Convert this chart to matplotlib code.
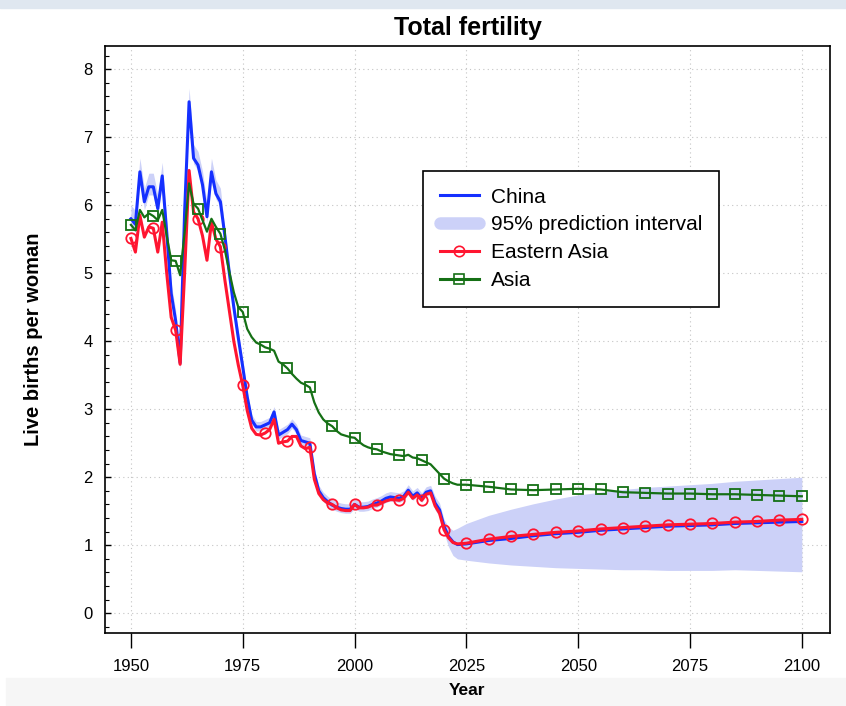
import matplotlib
matplotlib.use("Agg")
import matplotlib.pyplot as plt
from matplotlib.lines import Line2D
from matplotlib.patches import Rectangle
from matplotlib.ticker import MultipleLocator

plt.rcParams['font.family'] = ['Liberation Sans', 'DejaVu Sans']

# years: annual estimates 1950-2023, then 5-year projections
hist_years = list(range(1950, 2024))
proj_years = list(range(2025, 2101, 5))
years = hist_years + proj_years

china = [5.80, 5.72, 6.49, 6.05, 6.27, 6.27, 5.95, 6.43, 5.60, 4.70,
         4.30, 3.68, 5.90, 7.52, 6.69, 6.59, 6.30, 5.83, 6.49, 6.17,
         6.05, 5.55, 5.00, 4.50, 4.05, 3.62, 3.18, 2.84, 2.74, 2.74,
         2.77, 2.80, 2.96, 2.62, 2.66, 2.70, 2.78, 2.70, 2.54, 2.52,
         2.50, 2.05, 1.80, 1.70, 1.64, 1.59, 1.56, 1.54, 1.53, 1.53,
         1.60, 1.56, 1.56, 1.57, 1.60, 1.62, 1.65, 1.69, 1.71, 1.70,
         1.69, 1.72, 1.81, 1.72, 1.77, 1.69, 1.78, 1.80, 1.62, 1.52,
         1.28, 1.13, 1.05, 1.01,
         1.02, 1.07, 1.10, 1.14, 1.17, 1.19, 1.22, 1.24, 1.26, 1.28,
         1.29, 1.30, 1.32, 1.33, 1.34, 1.35]

china_hi = [6.00, 5.92, 6.69, 6.25, 6.47, 6.47, 6.15, 6.63, 5.75, 4.85,
            4.45, 3.83, 6.05, 7.72, 6.89, 6.79, 6.50, 6.03, 6.69, 6.37,
            6.25, 5.65, 5.10, 4.60, 4.15, 3.72, 3.26, 2.92, 2.82, 2.82,
            2.85, 2.88, 3.04, 2.70, 2.74, 2.78, 2.86, 2.78, 2.62, 2.60,
            2.58, 2.13, 1.88, 1.78, 1.72, 1.67, 1.64, 1.62, 1.61, 1.61,
            1.68, 1.64, 1.64, 1.65, 1.68, 1.70, 1.73, 1.77, 1.79, 1.78,
            1.77, 1.80, 1.89, 1.80, 1.85, 1.77, 1.86, 1.88, 1.72, 1.62,
            1.38, 1.27, 1.22, 1.25,
            1.32, 1.44, 1.53, 1.61, 1.68, 1.74, 1.78, 1.82, 1.85, 1.87,
            1.89, 1.91, 1.94, 1.96, 1.98, 2.00]

china_lo = [5.68, 5.60, 6.37, 5.93, 6.15, 6.15, 5.83, 6.31, 5.50, 4.60,
            4.20, 3.58, 5.80, 7.44, 6.61, 6.51, 6.22, 5.75, 6.41, 6.09,
            5.97, 5.45, 4.90, 4.40, 3.95, 3.52, 3.12, 2.78, 2.68, 2.68,
            2.71, 2.74, 2.90, 2.56, 2.60, 2.64, 2.72, 2.64, 2.48, 2.46,
            2.44, 1.99, 1.74, 1.64, 1.58, 1.53, 1.50, 1.48, 1.47, 1.47,
            1.54, 1.50, 1.50, 1.51, 1.54, 1.56, 1.59, 1.63, 1.65, 1.64,
            1.63, 1.66, 1.75, 1.66, 1.71, 1.63, 1.72, 1.74, 1.52, 1.42,
            1.18, 0.98, 0.85, 0.80,
            0.78, 0.74, 0.71, 0.69, 0.67, 0.66, 0.65, 0.64, 0.64, 0.63,
            0.63, 0.63, 0.64, 0.63, 0.62, 0.61]

eastern_asia = [5.51, 5.31, 5.85, 5.53, 5.68, 5.66, 5.31, 5.75, 5.00, 4.35,
                4.16, 3.66, 5.00, 6.51, 5.90, 5.80, 5.55, 5.19, 5.75, 5.50,
                5.39, 4.90, 4.45, 4.00, 3.65, 3.35, 2.98, 2.72, 2.63, 2.62,
                2.65, 2.70, 2.85, 2.50, 2.52, 2.53, 2.60, 2.60, 2.46, 2.42,
                2.44, 1.97, 1.76, 1.67, 1.62, 1.60, 1.55, 1.52, 1.51, 1.51,
                1.60, 1.55, 1.55, 1.56, 1.59, 1.59, 1.62, 1.65, 1.67, 1.67,
                1.66, 1.69, 1.78, 1.69, 1.74, 1.66, 1.75, 1.77, 1.58, 1.47,
                1.23, 1.11, 1.04, 1.02,
                1.03, 1.09, 1.13, 1.16, 1.19, 1.21, 1.24, 1.26, 1.28, 1.30,
                1.31, 1.32, 1.34, 1.35, 1.37, 1.38]

asia = [5.71, 5.63, 5.93, 5.82, 5.88, 5.84, 5.78, 5.93, 5.55, 5.19,
        5.18, 4.97, 5.60, 6.32, 6.02, 5.95, 5.78, 5.61, 5.80, 5.68,
        5.58, 5.34, 5.02, 4.72, 4.50, 4.43, 4.18, 4.06, 3.98, 3.95,
        3.91, 3.89, 3.86, 3.70, 3.66, 3.60, 3.52, 3.45, 3.39, 3.36,
        3.32, 3.10, 2.95, 2.85, 2.79, 2.75, 2.68, 2.63, 2.61, 2.59,
        2.58, 2.52, 2.47, 2.44, 2.42, 2.41, 2.38, 2.36, 2.34, 2.33,
        2.32, 2.31, 2.33, 2.29, 2.28, 2.25, 2.22, 2.19, 2.12, 2.05,
        1.98, 1.94, 1.91, 1.89,
        1.89, 1.86, 1.82, 1.81, 1.82, 1.83, 1.82, 1.78, 1.77, 1.76,
        1.76, 1.75, 1.75, 1.74, 1.73, 1.72]

x_ticks = [1950, 1975, 2000, 2025, 2050, 2075, 2100]

BLUE = '#1530ff'
RED = '#ff1530'
GREEN = '#157015'
BAND = '#ccd1f8'

fig = plt.figure(figsize=(8.46, 7.06), dpi=100)
# screenshot background strips
fig.patches.append(Rectangle((0, 1 - 8 / 706), 1, 8 / 706, transform=fig.transFigure,
                             color='#dfe7f0', zorder=-5))
fig.patches.append(Rectangle((6 / 846, 0), 1, 28 / 706, transform=fig.transFigure,
                             color='#f6f6f6', zorder=-5))

ax = fig.add_axes([105 / 846, 1 - 633 / 706, 725 / 846, 587 / 706])

marks = [i for i, y in enumerate(years) if y % 5 == 0]

ax.fill_between(years, china_lo, china_hi, color=BAND, lw=0, zorder=1)
ax.plot(years, china, color=BLUE, lw=2.2, zorder=3)
ax.plot(years, eastern_asia, color=RED, lw=2.2, marker='o', markevery=marks,
        ms=7.5, mfc='none', mec=RED, mew=1.3, zorder=4)
ax.plot(years, asia, color=GREEN, lw=1.6, marker='s', markevery=marks,
        ms=6.5, mfc='none', mec=GREEN, mew=1.3, zorder=5)

ax.set_xlim(1944.2, 2106.3)
ax.set_ylim(-0.29, 8.34)
ax.set_xticks(x_ticks)
ax.set_yticks(range(0, 9))
ax.yaxis.set_minor_locator(MultipleLocator(0.2))
ax.tick_params(axis='x', direction='out', length=11, width=1, pad=8, labelsize=12)
ax.tick_params(axis='y', which='major', direction='in', length=4, width=1, pad=9, labelsize=12)
ax.tick_params(axis='y', which='minor', direction='in', length=3, width=0.8)
ax.grid(True, which='major', color='#c4c4c4', lw=0.8, ls=(0, (1, 3)))
ax.set_axisbelow(True)
for s in ax.spines.values():
    s.set_linewidth(1.2)

ax.set_title('Total fertility', fontsize=18, fontweight='bold', pad=8)
ax.set_xlabel('Year', fontsize=12.5, fontweight='bold', labelpad=6)
ax.set_ylabel('Live births per woman', fontsize=14.5, fontweight='bold', labelpad=29)

handles = [
    Line2D([], [], color=BLUE, lw=2.2),
    Line2D([], [], color=BAND, lw=9, solid_capstyle='round'),
    Line2D([], [], color=RED, lw=2.2, marker='o', ms=7.5, mfc='none', mec=RED, mew=1.2),
    Line2D([], [], color=GREEN, lw=2.2, marker='s', ms=6.5, mfc='none', mec=GREEN, mew=1.2),
]
labels = ['China', '95% prediction interval', 'Eastern Asia', 'Asia']
leg = ax.legend(handles, labels, loc='upper left', bbox_to_anchor=(0.4386, 0.787),
                fontsize=15, frameon=True, fancybox=False, edgecolor='black',
                framealpha=1, handlelength=1.9, handletextpad=0.55,
                labelspacing=0.42, borderpad=0.8, borderaxespad=0)
leg.get_frame().set_linewidth(1.2)

fig.savefig('out.png', dpi=100)
